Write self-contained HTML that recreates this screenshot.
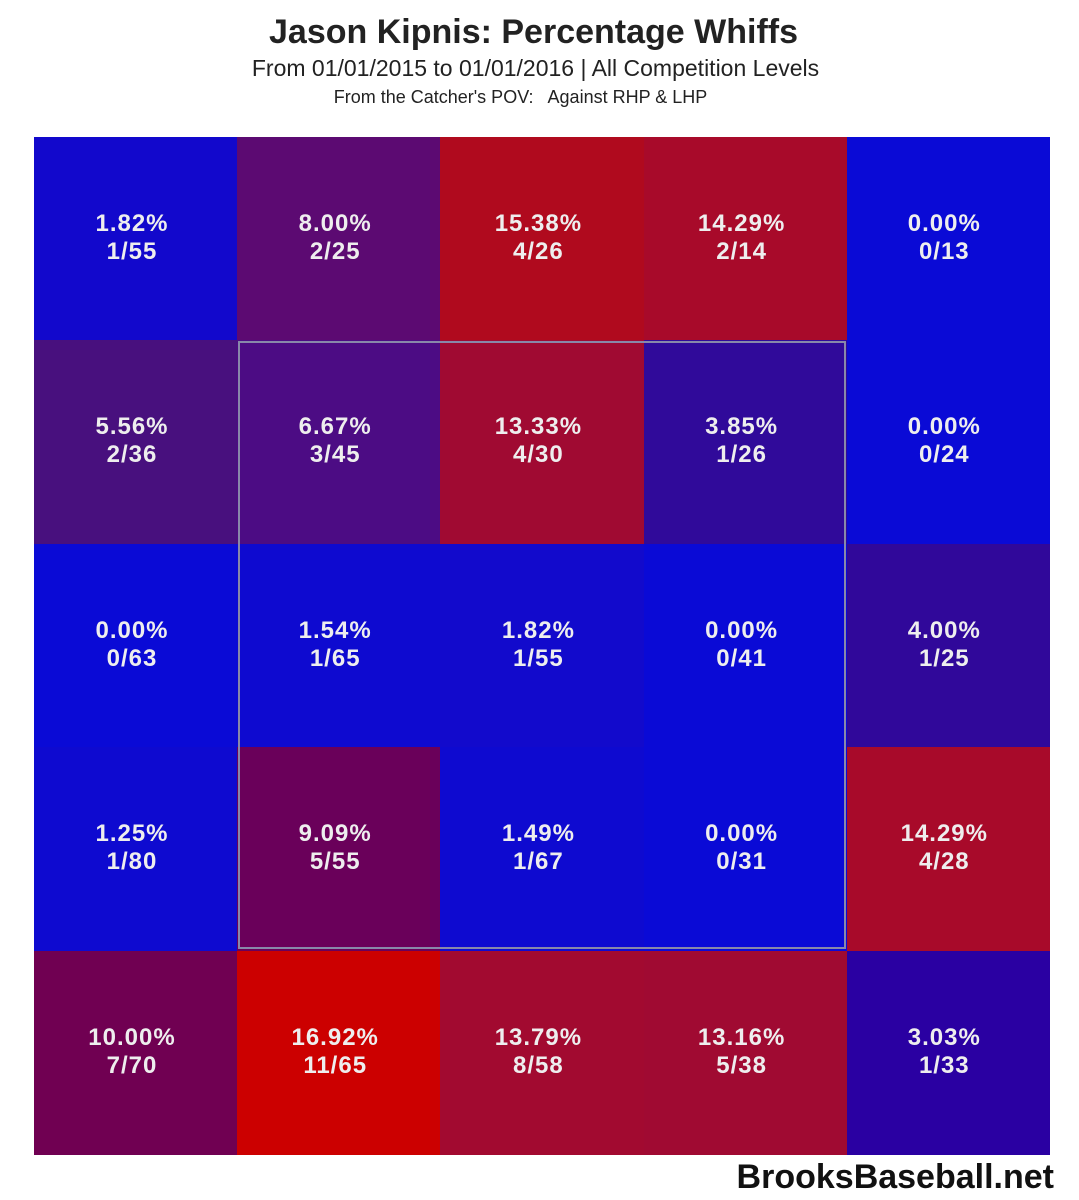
<!DOCTYPE html>
<html><head><style>
body{margin:0;background:#fff;width:1079px;height:1200px;position:relative;overflow:hidden;font-family:"Liberation Sans",sans-serif}
.t{position:absolute;left:0;width:1079px;text-align:center;color:#222}
.c{position:absolute;width:203px;height:204px;color:#eee;font-weight:bold;font-size:24px;text-align:center;line-height:28px;box-sizing:border-box;padding-top:73px;padding-right:8px;letter-spacing:1px}
</style></head><body>
<div class="t" style="top:13px;font-size:34px;font-weight:bold;left:-6px">Jason Kipnis: Percentage Whiffs</div>
<div class="t" style="top:55px;font-size:23px;left:-4px">From 01/01/2015 to 01/01/2016 | All Competition Levels</div>
<div class="t" style="top:87px;font-size:18px;left:-19px">From the Catcher's POV: &nbsp; Against RHP &amp; LHP</div>
<div id="g"></div>
<div style="position:absolute;left:238px;top:341px;width:608px;height:608px;border:2px solid #8888aa;box-sizing:border-box"></div>
<div style="position:absolute;right:25px;top:1158px;font-size:34px;font-weight:bold;color:#111">BrooksBaseball.net</div>
<script>
var d=[
[["1.82%","1/55","#1208cc"],["8.00%","2/25","#5c0a72"],["15.38%","4/26","#b00a1e"],["14.29%","2/14","#a80a2a"],["0.00%","0/13","#0a0ad6"]],
[["5.56%","2/36","#48107e"],["6.67%","3/45","#4c0c84"],["13.33%","4/30","#a00a32"],["3.85%","1/26","#300a9a"],["0.00%","0/24","#0a0ad6"]],
[["0.00%","0/63","#0a0ad6"],["1.54%","1/65","#0e0ad0"],["1.82%","1/55","#120acc"],["0.00%","0/41","#0a0ad6"],["4.00%","1/25","#30089a"]],
[["1.25%","1/80","#0e0ad0"],["9.09%","5/55","#6a005a"],["1.49%","1/67","#0e0ad0"],["0.00%","0/31","#0a0ad6"],["14.29%","4/28","#a80a2a"]],
[["10.00%","7/70","#700052"],["16.92%","11/65","#cc0000"],["13.79%","8/58","#a20a30"],["13.16%","5/38","#a00a32"],["3.03%","1/33","#2a00a2"]]];
var h="";
for(var r=0;r<5;r++)for(var c=0;c<5;c++){var v=d[r][c];
h+='<div class="c" style="left:'+(34+c*203.2)+'px;top:'+(137+r*203.4)+'px;width:'+(c==4?203:204)+'px;background:'+v[2]+'">'+v[0]+'<br>'+v[1]+'</div>';}
document.getElementById("g").innerHTML=h;
</script>
</body></html>
